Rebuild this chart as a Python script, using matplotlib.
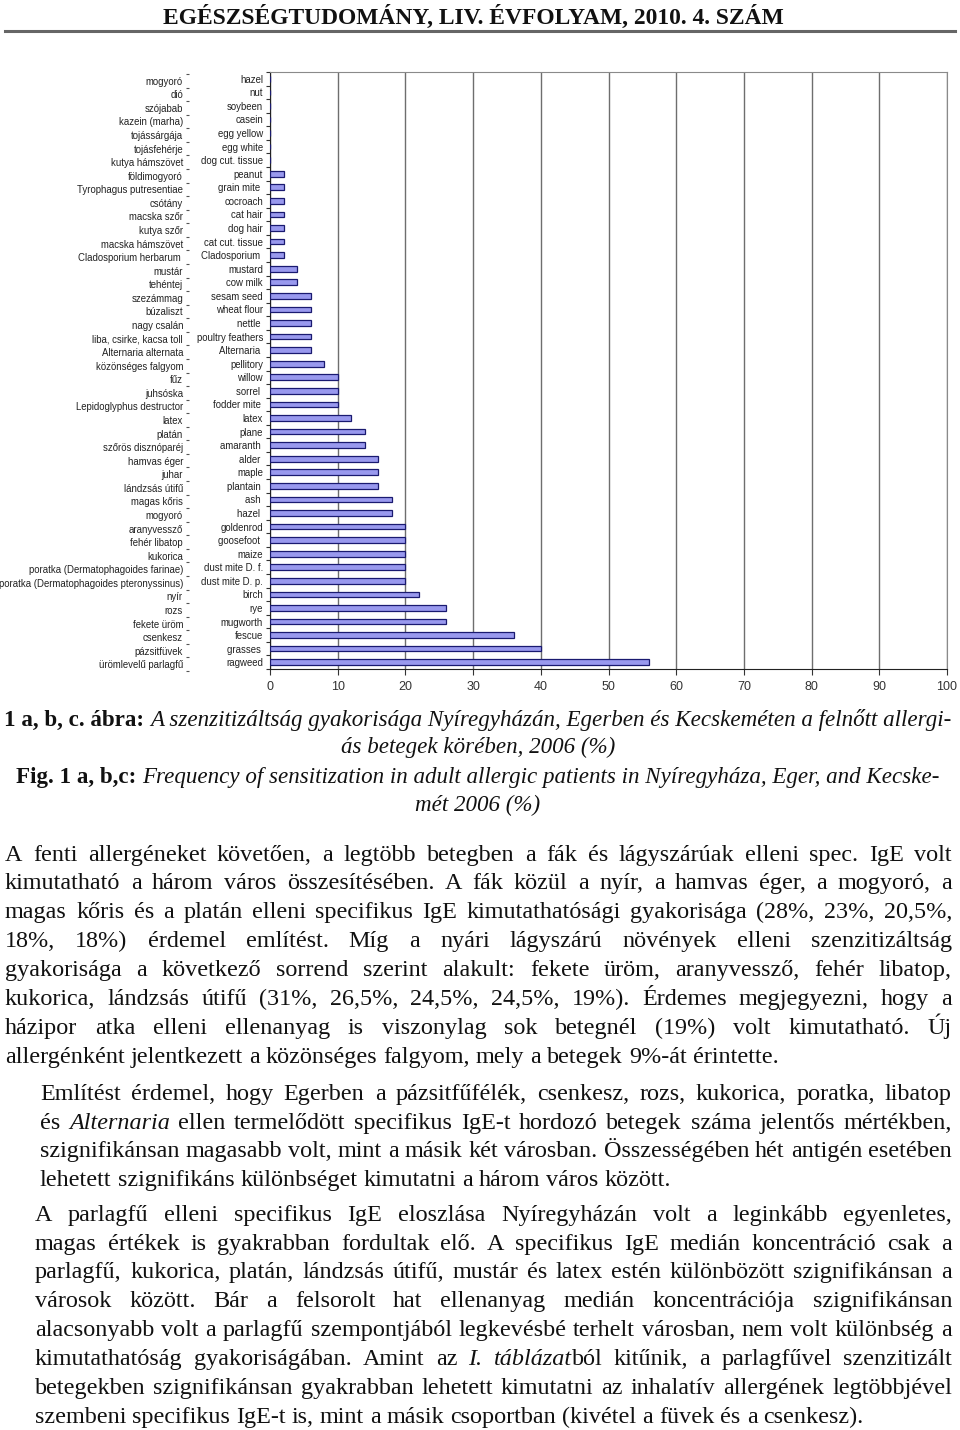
"""Page recreation: sensitization frequency bar chart + caption + body text."""

import matplotlib

matplotlib.use("Agg")
import matplotlib.pyplot as plt
import numpy as np

W, H = 960, 1430
SERIF = "Liberation Serif"
SANS = "Liberation Sans"

EN_LABELS = [
    "hazel", "nut", "soybeen", "casein", "egg yellow", "egg white", "dog cut. tissue",
    "peanut", "grain mite ", "cocroach", "cat hair", "dog hair", "cat cut. tissue",
    "Cladosporium ", "mustard", "cow milk", "sesam seed", "wheat flour", "nettle ",
    "poultry feathers", "Alternaria ", "pellitory", "willow", "sorrel ", "fodder mite ",
    "latex", "plane", "amaranth ", "alder ", "maple", "plantain ", "ash ", "hazel ",
    "goldenrod", "goosefoot ", "maize", "dust mite D. f.", "dust mite D. p.", "birch",
    "rye", "mugworth", "fescue", "grasses ", "ragweed",
]
HU_LABELS = [
    "mogyoró", "dió", "szójabab", "kazein (marha)", "tojássárgája", "tojásfehérje",
    "kutya hámszövet", "földimogyoró", "Tyrophagus putresentiae", "csótány", "macska szőr",
    "kutya szőr", "macska hámszövet", "Cladosporium herbarum ", "mustár", "tehéntej",
    "szezámmag", "búzaliszt", "nagy csalán", "liba, csirke, kacsa toll", "Alternaria alternata",
    "közönséges falgyom", "fűz", "juhsóska", "Lepidoglyphus destructor", "latex", "platán",
    "szőrös disznóparéj", "hamvas éger", "juhar", "lándzsás útifű", "magas kőris", "mogyoró",
    "aranyvessző", "fehér libatop", "kukorica", "poratka (Dermatophagoides farinae)",
    "poratka (Dermatophagoides pteronyssinus)", "nyír", "rozs", "fekete üröm", "csenkesz",
    "pázsitfüvek", "ürömlevelű parlagfű",
]
VALUES = [
    0, 0, 0, 0, 0, 0, 0,
    2, 2, 2, 2, 2, 2, 2,
    4, 4,
    6, 6, 6, 6, 6,
    8,
    10, 10, 10,
    12, 14, 14,
    16, 16, 16,
    18, 18,
    20, 20, 20, 20, 20,
    22, 26, 26, 36, 40, 56,
]
X_TICKS = list(range(0, 101, 10))

HEADER = "EGÉSZSÉGTUDOMÁNY, LIV. ÉVFOLYAM, 2010. 4. SZÁM"
CAPTION = [
    [("1 a, b, c. ábra: ", "bold"),
     ("A szenzitizáltság gyakorisága Nyíregyházán, Egerben és Kecskeméten a felnőtt allergi-", "italic")],
    [("ás betegek körében, 2006 (%)", "italic")],
    [("Fig. 1 a, b,c: ", "bold"),
     ("Frequency of sensitization in adult allergic patients in Nyíregyháza, Eger, and Kecske-", "italic")],
    [("mét 2006 (%)", "italic")],
]
CAPTION_Y = [718, 745, 775, 803]

PARAGRAPHS = [
    (5, [853, 881, 910, 939, 968, 997, 1026, 1055], [
        "A fenti allergéneket követően, a legtöbb betegben a fák és lágyszárúak elleni spec. IgE volt",
        "kimutatható a három város összesítésében. A fák közül a nyír, a hamvas éger, a mogyoró, a",
        "magas kőris és a platán elleni specifikus IgE kimutathatósági gyakorisága (28%, 23%, 20,5%,",
        "18%, 18%) érdemel említést. Míg a nyári lágyszárú növények elleni szenzitizáltság",
        "gyakorisága a következő sorrend szerint alakult: fekete üröm, aranyvessző, fehér libatop,",
        "kukorica, lándzsás útifű (31%, 26,5%, 24,5%, 24,5%, 19%). Érdemes megjegyezni, hogy a",
        "házipor atka elleni ellenanyag is viszonylag sok betegnél (19%) volt kimutatható. Új",
        "allergénként jelentkezett a közönséges falgyom, mely a betegek 9%-át érintette.",
    ]),
    (40, [1092, 1121, 1149, 1178], [
        "Említést érdemel, hogy Egerben a pázsitfűfélék, csenkesz, rozs, kukorica, poratka, libatop",
        "és _Alternaria_ ellen termelődött specifikus IgE-t hordozó betegek száma jelentős mértékben,",
        "szignifikánsan magasabb volt, mint a másik két városban. Összességében hét antigén esetében",
        "lehetett szignifikáns különbséget kimutatni a három város között.",
    ]),
    (35, [1213, 1242, 1270, 1299, 1328, 1357, 1386, 1415], [
        "A parlagfű elleni specifikus IgE eloszlása Nyíregyházán volt a leginkább egyenletes,",
        "magas értékek is gyakrabban fordultak elő. A specifikus IgE medián koncentráció csak a",
        "parlagfű, kukorica, platán, lándzsás útifű, mustár és latex estén különbözött szignifikánsan a",
        "városok között. Bár a felsorolt hat ellenanyag medián koncentrációja szignifikánsan",
        "alacsonyabb volt a parlagfű szempontjából legkevésbé terhelt városban, nem volt különbség a",
        "kimutathatóság gyakoriságában. Amint az _I. táblázat_ból kitűnik, a parlagfűvel szenzitizált",
        "betegekben szignifikánsan gyakrabban lehetett kimutatni az inhalatív allergének legtöbbjével",
        "szembeni specifikus IgE-t is, mint a másik csoportban (kivétel a füvek és a csenkesz).",
    ]),
]
TEXT_RIGHT = 952

fig = plt.figure(figsize=(W / 100, H / 100), dpi=100)
renderer = fig.canvas.get_renderer()


def fx(x):
    return x / W


def fy(y):
    return 1 - y / H


def width(s, size, **kw):
    t = fig.text(0, 0, s, fontsize=size, family=SERIF, **kw)
    w = t.get_window_extent(renderer).width
    t.remove()
    return w


def style_kw(style):
    if style == "bold":
        return {"weight": "bold"}
    if style == "italic":
        return {"style": "italic"}
    return {}


def parse_line(line):
    words, cur, italic, buf = [], [], False, ""
    for ch in line + " ":
        if ch in " _":
            if buf:
                cur.append((buf, "italic" if italic else "normal"))
                buf = ""
            if ch == "_":
                italic = not italic
            elif cur:
                words.append(cur)
                cur = []
        else:
            buf += ch
    return words


# ---- header ----
hsize = 10 * 620 / width(HEADER, 10, weight="bold")
fig.text(fx(473), fy(17), HEADER, fontsize=hsize, family=SERIF, weight="bold",
         ha="center", va="center", color="#111")
fig.add_artist(plt.Line2D([fx(5), fx(955)], [fy(31), fy(31)], color="#666", lw=2.2))

# ---- chart ----
ax = fig.add_axes([fx(270), fy(669), 677 / W, 597 / H])
n = len(VALUES)
pos = np.arange(n)[::-1]
ax.barh(pos, VALUES, height=0.42, color="#9999ee", edgecolor="#1a1a70", linewidth=0.9, zorder=3)
ax.set_xlim(0, 100)
ax.set_ylim(-0.5, n - 0.5)
ax.set_xticks(X_TICKS)
ax.xaxis.grid(True, color="#6e6e6e", lw=1.0, zorder=0)
ax.set_yticks(np.arange(n + 1) - 0.5)
ax.set_yticklabels([])
ax.set_yticks(np.arange(n), labels=EN_LABELS[::-1], minor=True)
ax.tick_params(axis="y", which="major", length=3, color="#333", direction="out")
ax.tick_params(axis="y", which="minor", length=0, pad=5, labelsize=6.9, labelcolor="#222")
ax.tick_params(axis="x", length=4, color="#333", pad=5, labelsize=9, labelcolor="#333")
for lab in ax.get_yticklabels(minor=True) + ax.get_xticklabels():
    lab.set_family(SANS)
for side in ("left", "bottom"):
    ax.spines[side].set_color("#222")
for side in ("top", "right"):
    ax.spines[side].set_color("#8a8a8a")

# Hungarian label column (separate, slightly offset scale)
hu = fig.add_axes([fx(189), fy(671), 0.0001, 597 / H])
hu.patch.set_alpha(0)
for s in hu.spines.values():
    s.set_visible(False)
hu.set_xticks([])
hu.set_ylim(-0.5, n - 0.5)
hu.set_yticks(np.arange(n + 1) - 0.5)
hu.set_yticklabels([])
hu.set_yticks(np.arange(n), labels=HU_LABELS[::-1], minor=True)
hu.tick_params(axis="y", which="major", length=2.5, color="#555", direction="out")
hu.tick_params(axis="y", which="minor", length=0, pad=4.3, labelsize=6.9, labelcolor="#222")
for lab in hu.get_yticklabels(minor=True):
    lab.set_family(SANS)

# ---- caption ----
cap_w10 = sum(width(t, 10, **style_kw(st)) for t, st in CAPTION[0])
csize = 10 * 945 / cap_w10
c_off = 0.33 * csize * 100 / 72
for segs, y in zip(CAPTION, CAPTION_Y):
    ws = [width(t, csize, **style_kw(st)) for t, st in segs]
    x = 478 - sum(ws) / 2
    for (t, st), w in zip(segs, ws):
        fig.text(fx(x), fy(y + c_off), t, fontsize=csize, family=SERIF, va="baseline",
                 color="#111", **style_kw(st))
        x += w

# ---- body (justified) ----
ref_line = PARAGRAPHS[0][2][-1]
bsize = 10 * 798 / width(ref_line, 10)
for indent, ys, lines in PARAGRAPHS:
    for line in lines[:-1]:
        avail = TEXT_RIGHT - indent
        nat = width(line.replace("_", ""), bsize)
        if nat > avail:
            bsize *= avail / nat
space = width("a a", bsize) - width("aa", bsize)
b_off = 0.33 * bsize * 100 / 72

for indent, ys, lines in PARAGRAPHS:
    for i, (line, y) in enumerate(zip(lines, ys)):
        words = parse_line(line)
        seg_w = [[width(t, bsize, **style_kw(st)) for t, st in wd] for wd in words]
        total = sum(sum(w) for w in seg_w)
        last = i == len(lines) - 1
        gap = space if last else (TEXT_RIGHT - indent - total) / (len(words) - 1)
        x = indent
        for wd, wl in zip(words, seg_w):
            for (t, st), w in zip(wd, wl):
                fig.text(fx(x), fy(y + b_off), t, fontsize=bsize, family=SERIF,
                         va="baseline", color="#111", **style_kw(st))
                x += w
            x += gap

fig.savefig("out.png", dpi=100)
